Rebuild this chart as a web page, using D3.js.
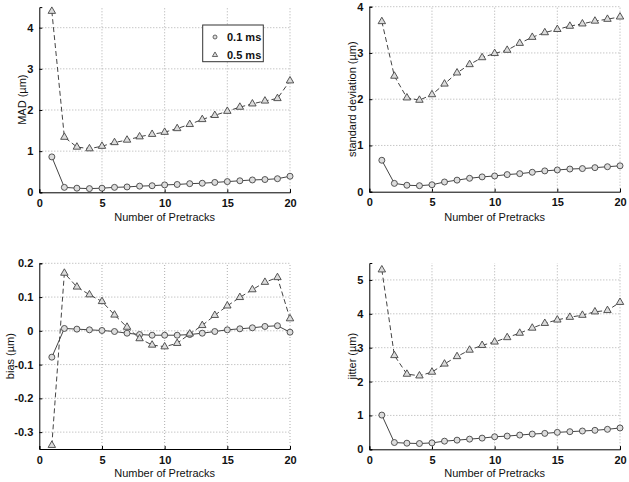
<!DOCTYPE html>
<html><head><meta charset="utf-8">
<script src="https://cdn.jsdelivr.net/npm/d3@7"></script>
<style>body{margin:0;background:#fff}svg{display:block}text{font-family:"Liberation Sans",Arial,sans-serif}</style>
</head><body>
<script>
const pretracks = d3.range(1, 21);
const seriesNames = ["0.1 ms", "0.5 ms"];
const xTicks = [0, 5, 10, 15, 20];

const mad01 = [0.86,0.12,0.10,0.09,0.10,0.12,0.13,0.15,0.16,0.18,0.19,0.21,0.22,0.24,0.26,0.28,0.30,0.31,0.33,0.39];
const mad05 = [4.40,1.34,1.10,1.06,1.12,1.21,1.27,1.35,1.41,1.46,1.55,1.65,1.77,1.87,1.97,2.07,2.15,2.22,2.28,2.71];
const std01 = [0.68,0.18,0.14,0.13,0.15,0.21,0.25,0.29,0.32,0.34,0.37,0.39,0.42,0.45,0.47,0.49,0.50,0.52,0.54,0.56];
const std05 = [3.68,2.50,2.03,1.98,2.10,2.33,2.57,2.75,2.90,2.99,3.06,3.21,3.34,3.44,3.51,3.58,3.63,3.69,3.73,3.78];
const bias01 = [-0.078,0.007,0.005,0.003,0.001,-0.002,-0.007,-0.011,-0.013,-0.013,-0.013,-0.011,-0.007,-0.002,0.003,0.006,0.009,0.013,0.015,-0.004];
const bias05 = [-0.339,0.171,0.130,0.107,0.087,0.047,0.011,-0.023,-0.042,-0.047,-0.037,-0.009,0.016,0.046,0.074,0.099,0.122,0.144,0.158,0.036];
const jit01 = [1.01,0.20,0.18,0.17,0.19,0.24,0.27,0.30,0.33,0.37,0.39,0.42,0.45,0.47,0.50,0.52,0.54,0.56,0.59,0.63];
const jit05 = [5.30,2.77,2.22,2.17,2.28,2.52,2.74,2.93,3.07,3.17,3.30,3.43,3.58,3.72,3.82,3.90,3.96,4.06,4.10,4.34];

const madTicks = [0,1,2,3,4];
const stdTicks = [0,1,2,3,4];
const biasTicks = [-0.3,-0.2,-0.1,0,0.1,0.2];
const jitTicks = [0,1,2,3,4,5];

const W = 629, H = 482;
const svg = d3.select("body").append("svg").attr("width", W).attr("height", H);

const panels = [
  {s1: mad01, s2: mad05, dom: [0,4.5], ticks: madTicks, ylabel: "MAD (\u00b5m)", box: [39.3,290,192.3,7.1], ylx: 22, xl: 221, legend: true},
  {s1: std01, s2: std05, dom: [0,4], ticks: stdTicks, ylabel: "standard deviation (\u00b5m)", box: [369.3,620,191.7,6.7], ylx: 352, xl: 221},
  {s1: bias01, s2: bias05, dom: [-0.35,0.2], ticks: biasTicks, ylabel: "bias (\u00b5m)", box: [39.3,290,449,263.3], ylx: 10, xl: 477},
  {s1: jit01, s2: jit05, dom: [0,5.5], ticks: jitTicks, ylabel: "jitter (\u00b5m)", box: [369.3,620,449.3,263], ylx: 352, xl: 477}
];

const lineCol = "#444", markFill = "#dcdcdc";
const triPath = d3.symbol().type(d3.symbolTriangle).size(24);

panels.forEach(p => {
  const [x0, x1, yb, yt] = p.box;
  const x = d3.scaleLinear().domain([0, 20]).range([x0, x1]);
  const y = d3.scaleLinear().domain(p.dom).range([yb, yt]);
  const g = svg.append("g");

  // grid
  g.selectAll(".gx").data(xTicks.filter(t => t > 0)).join("line")
    .attr("x1", d => x(d)).attr("x2", d => x(d)).attr("y1", yb).attr("y2", yt)
    .attr("stroke", "#999").attr("stroke-width", 0.8).attr("stroke-dasharray", "1,2");
  g.selectAll(".gy").data(p.ticks.filter(t => y(t) < yb - 1)).join("line")
    .attr("x1", x0).attr("x2", x1).attr("y1", d => y(d)).attr("y2", d => y(d))
    .attr("stroke", "#999").attr("stroke-width", 0.8).attr("stroke-dasharray", "1,2");

  // axes
  const ax = g.append("g").attr("transform", `translate(0,${yb})`)
    .call(d3.axisBottom(x).tickValues(xTicks).tickSize(-3).tickPadding(7).tickFormat(d3.format("d")));
  const ay = g.append("g").attr("transform", `translate(${x0},0)`)
    .call(d3.axisLeft(y).tickValues(p.ticks).tickSize(-3).tickPadding(6)
      .tickFormat(d => d === 0 ? "0" : String(+d.toFixed(2)).replace("\u2212","-")));
  [ax, ay].forEach(a => {
    a.select(".domain").attr("stroke", "#000").attr("stroke-width", 1);
    a.selectAll(".tick line").attr("stroke", "#000");
    a.selectAll(".tick text").attr("font-size", 11).attr("font-weight", "bold").attr("fill", "#111")
      .attr("font-family", "Liberation Sans, Arial, sans-serif");
  });

  // labels
  g.append("text").attr("x", (x0 + x1) / 2).attr("y", p.xl).attr("text-anchor", "middle")
    .attr("font-size", 11).attr("fill", "#111").text("Number of Pretracks");
  g.append("text").attr("transform", `translate(${p.ylx},${(yb + yt) / 2}) rotate(-90)`)
    .attr("text-anchor", "middle").attr("dy", "0.35em").attr("font-size", 11).attr("fill", "#111").text(p.ylabel);

  // lines
  const line = d3.line().x((d, i) => x(pretracks[i])).y(d => y(d));
  g.append("path").datum(p.s1).attr("d", line).attr("fill", "none").attr("stroke", lineCol).attr("stroke-width", 1);
  g.append("path").datum(p.s2).attr("d", line).attr("fill", "none").attr("stroke", lineCol).attr("stroke-width", 1)
    .attr("stroke-dasharray", "5,3");

  g.selectAll(".c").data(p.s1).join("circle")
    .attr("cx", (d, i) => x(pretracks[i])).attr("cy", d => y(d)).attr("r", 3)
    .attr("fill", markFill).attr("stroke", lineCol).attr("stroke-width", 0.9);
  g.selectAll(".t").data(p.s2).join("path")
    .attr("transform", (d, i) => `translate(${x(pretracks[i])},${y(d)})`).attr("d", triPath)
    .attr("fill", markFill).attr("stroke", lineCol).attr("stroke-width", 0.9);

  if (p.legend) {
    const lg = g.append("g");
    lg.append("rect").attr("x", 202.7).attr("y", 25).attr("width", 60.6).attr("height", 36.7)
      .attr("fill", "#fff").attr("stroke", "#333").attr("stroke-width", 1);
    lg.append("circle").attr("cx", 215).attr("cy", 37).attr("r", 2).attr("fill", markFill).attr("stroke", lineCol).attr("stroke-width", 0.8);
    lg.append("path").attr("transform", "translate(215,55)").attr("d", d3.symbol().type(d3.symbolTriangle).size(12))
      .attr("fill", markFill).attr("stroke", lineCol).attr("stroke-width", 0.8);
    seriesNames.forEach((n, i) => {
      lg.append("text").attr("x", 227).attr("y", 37 + i * 18).attr("dy", "0.35em")
        .attr("font-size", 11).attr("font-weight", "bold").attr("fill", "#111").text(n);
    });
  }
});
</script>
</body></html>
